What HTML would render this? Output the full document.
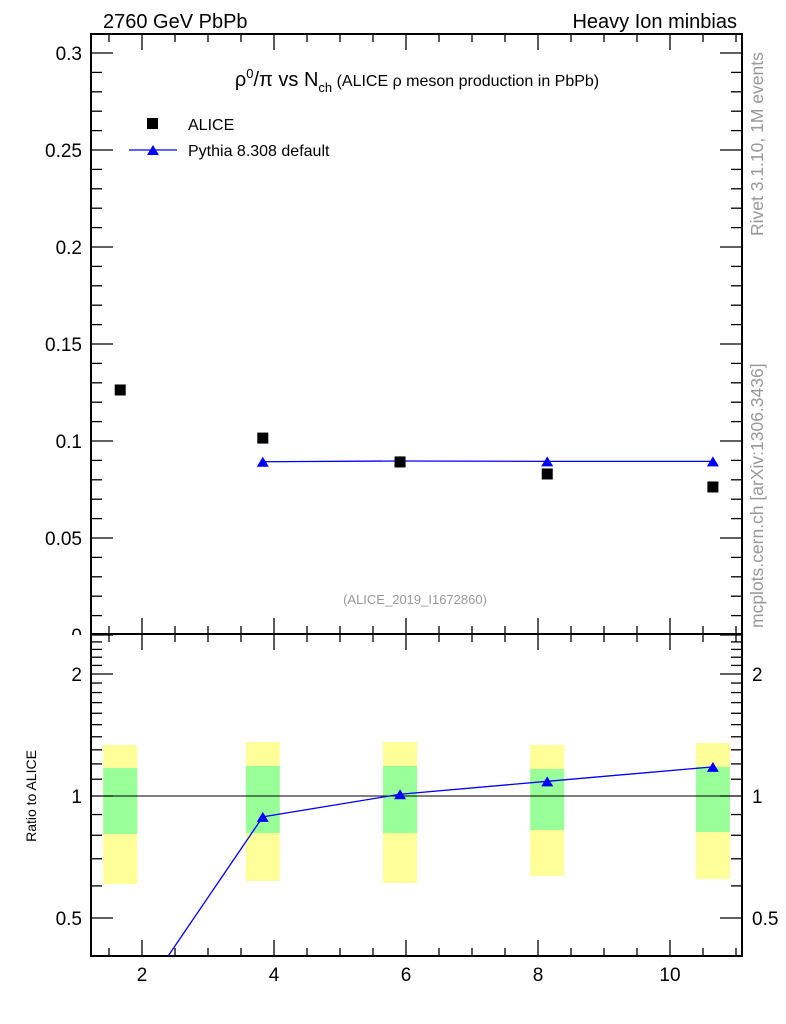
<!DOCTYPE html>
<html><head><meta charset="utf-8"><style>
body{margin:0;background:#fff}
svg{display:block;font-family:"Liberation Sans",sans-serif}
</style></head><body>
<svg id="c" width="786" height="1024" viewBox="0 0 786 1024">
<text x="103" y="28" font-size="20">2760 GeV PbPb</text>
<text x="737" y="28" font-size="20" text-anchor="end">Heavy Ion minbias</text>
<text x="417" y="86" font-size="20" text-anchor="middle">ρ<tspan font-size="13" dy="-8">0</tspan><tspan dy="8">/π vs N</tspan><tspan font-size="13" dy="6">ch</tspan><tspan dy="-6" font-size="16"> (ALICE ρ meson production in PbPb)</tspan></text>
<text x="415" y="604" font-size="13" fill="#999" text-anchor="middle">(ALICE_2019_I1672860)</text>
<text transform="translate(763,236) rotate(-90)" font-size="17.5" fill="#999">Rivet 3.1.10,  1M events</text>
<text transform="translate(763,628) rotate(-90)" font-size="17.5" fill="#999">mcplots.cern.ch [arXiv:1306.3436]</text>
<text transform="translate(36,796) rotate(-90)" font-size="14" text-anchor="middle">Ratio to ALICE</text>
<g>
<rect x="147" y="118" width="11" height="11" fill="#000"/>
<text x="188" y="130" font-size="16">ALICE</text>
<line x1="129" y1="150" x2="177" y2="150" stroke="#00f" stroke-width="1.3"/>
<polygon points="147,155 153,145 159,155" fill="#00f"/>
<text x="188" y="156" font-size="16">Pythia 8.308 default</text>
</g>
<g id="g"></g>
</svg>
<script>
const xVals=[1.67,3.83,5.91,8.14,10.65];
const aliceVals=[0.1263,0.1015,0.0892,0.0830,0.0763];
const pythiaVals=[null,0.0893,0.0897,0.0895,0.0895];
const ratioPythia=[0.27,0.888,1.01,1.087,1.18];
const statLo=[0.806,0.810,0.810,0.824,0.815];
const statHi=[1.172,1.186,1.186,1.166,1.180];
const totLo=[0.606,0.617,0.610,0.635,0.624];
const totHi=[1.336,1.359,1.359,1.336,1.351];
const xTicks=[2,4,6,8,10];
const yTicks=[0,0.05,0.1,0.15,0.2,0.25,0.3];
const yTickLabels=["0","0.05","0.1","0.15","0.2","0.25","0.3"];
const rTicks=[0.5,1,2];
const rTickLabels=["0.5","1","2"];

const L=91,R=742,T=34,M=634,B=956;
const X=v=>10+66*v;
const Y=v=>635-1940*v;
const RY=v=>796-176*Math.log(v);
const g=document.getElementById('g');
const NS='http://www.w3.org/2000/svg';
function mk(t,a){const e=document.createElementNS(NS,t);for(const k in a)e.setAttribute(k,a[k]);g.appendChild(e);return e;}
xVals.forEach((x,i)=>{
 let e=mk('rect',{x:X(x)-17,y:RY(totHi[i]),width:34,height:RY(totLo[i])-RY(totHi[i]),fill:'#ffff99'});
 
 
 e=mk('rect',{x:X(x)-17,y:RY(statHi[i]),width:34,height:RY(statLo[i])-RY(statHi[i]),fill:'#99ff99'});
 
 
});
let e=mk('line',{x1:L,x2:R,y1:RY(1),y2:RY(1),stroke:'#000','stroke-width':1});


// y tick labels of main (drawn before frame so ratio panel white covers lower part of 0)
yTicks.forEach((v,i)=>{const t=mk('text',{x:82,y:Y(v)+7,'font-size':19,'text-anchor':'end'});t.textContent=yTickLabels[i];});
e=mk('rect',{x:40,y:M+1,width:50,height:20,fill:'#fff'});


e=mk('rect',{x:L,y:T,width:R-L,height:M-T,fill:'none',stroke:'#000','stroke-width':2});


e=mk('rect',{x:L,y:M,width:R-L,height:B-M,fill:'none',stroke:'#000','stroke-width':2});


for(let v=1.5;v<=11;v+=0.5){const px=X(v);const maj=Math.abs(v-Math.round(v))<1e-6&&Math.round(v)%2==0;const l=maj?16:8;
 [[T,1],[M,-1],[M,1],[B,-1]].forEach(([y,d])=>{const t=mk('line',{x1:px,x2:px,y1:y,y2:y+d*l,stroke:'#000','stroke-width':1.3});});}
xTicks.forEach(v=>{const t=mk('text',{x:X(v),y:981,'font-size':19,'text-anchor':'middle'});t.textContent=v;});
for(let k=0;k<=30;k++){const v=k/100,py=Y(v);if(py<T)continue;const l=k%5==0?22:11;
 [[L,1],[R,-1]].forEach(([x,d])=>{const t=mk('line',{x1:x,x2:x+d*l,y1:py,y2:py,stroke:'#000','stroke-width':1.3});});}
for(let k=5;k<=25;k++){const v=k/10,py=RY(v);if(py<M+2||py>B)continue;const l=(k==5||k==10||k==20)?22:11;
 [[L,1],[R,-1]].forEach(([x,d])=>{const t=mk('line',{x1:x,x2:x+d*l,y1:py,y2:py,stroke:'#000','stroke-width':1.3});});}
rTicks.forEach((v,i)=>{[[82,'end'],[752,'start']].forEach(([x,a])=>{const t=mk('text',{x:x,y:RY(v)+7,'font-size':19,'text-anchor':a});t.textContent=rTickLabels[i];});});
const pp=xVals.map((x,i)=>pythiaVals[i]==null?null:[X(x),Y(pythiaVals[i])]).filter(p=>p);
e=mk('polyline',{points:pp.map(p=>p.join(',')).join(' '),fill:'none',stroke:'#00f','stroke-width':1.3});


pp.forEach(p=>{const t=mk('polygon',{points:`${p[0]-6},${p[1]+5} ${p[0]},${p[1]-5} ${p[0]+6},${p[1]+5}`,fill:'#00f'});});
xVals.forEach((x,i)=>{const t=mk('rect',{x:X(x)-5.5,y:Y(aliceVals[i])-5.5,width:11,height:11,fill:'#000'});});
const cp=mk('clipPath',{id:'rc'});
const cr=document.createElementNS(NS,'rect');cr.setAttribute('x',L);cr.setAttribute('y',M);cr.setAttribute('width',R-L);cr.setAttribute('height',B-M);cp.appendChild(cr);
const rp=xVals.map((x,i)=>[X(x),RY(ratioPythia[i])]);
e=mk('polyline',{points:rp.map(p=>p.join(',')).join(' '),fill:'none',stroke:'#00f','stroke-width':1.3,'clip-path':'url(#rc)'});


rp.forEach(p=>{if(p[1]>B)return;const t=mk('polygon',{points:`${p[0]-6},${p[1]+5} ${p[0]},${p[1]-5} ${p[0]+6},${p[1]+5}`,fill:'#00f'});});
</script>
</body></html>
